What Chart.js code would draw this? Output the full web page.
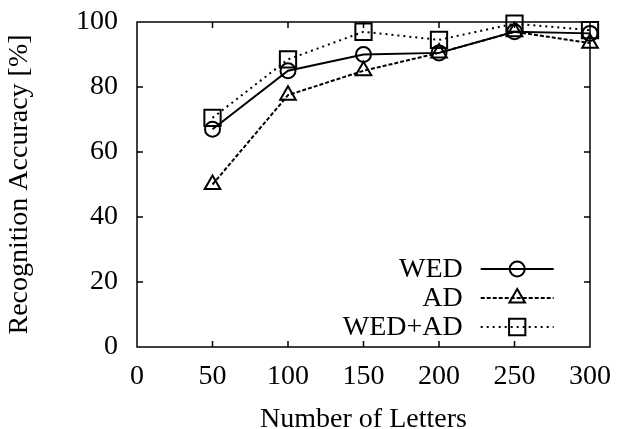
<!DOCTYPE html>
<html>
<head>
<meta charset="utf-8">
<script src="https://cdn.jsdelivr.net/npm/chart.js@4.4.0/dist/chart.umd.min.js"></script>
<style>
  html, body { margin: 0; padding: 0; background: #fff; }
  #wrap { width: 617px; height: 429px; }
</style>
</head>
<body>
<div id="wrap"><canvas id="acc-chart" width="617" height="429"></canvas></div>
<script>
// values
const letters = [50, 100, 150, 200, 250, 300];
const wed = [67, 85, 90, 90.5, 97, 96.5];
const ad = [50, 77.5, 85, 90.5, 97, 93.5];
const wedAd = [70.5, 88.5, 97, 94.5, 99.5, 97.5];

const seriesNames = ["WED", "AD", "WED+AD"];
const xTicks = [0, 50, 100, 150, 200, 250, 300];
const yTicks = [0, 20, 40, 60, 80, 100];

const FONT = "'Liberation Serif', 'Times New Roman', serif";
const FSIZE = 28;

function toPoints(vals) {
  return letters.map((x, i) => ({ x: x, y: vals[i] }));
}

// frame + inward ticks on all four sides, plus the gnuplot style legend
const framePlugin = {
  id: "frame",
  afterDatasetsDraw(chart) {
    const { ctx, chartArea: a, scales } = chart;
    ctx.save();
    ctx.strokeStyle = "#000";
    ctx.lineWidth = 1.5;
    ctx.setLineDash([]);
    ctx.strokeRect(a.left, a.top, a.right - a.left, a.bottom - a.top);
    const len = 6;
    ctx.beginPath();
    xTicks.slice(1, -1).forEach((v) => {
      const px = scales.x.getPixelForValue(v);
      ctx.moveTo(px, a.bottom); ctx.lineTo(px, a.bottom - len);
      ctx.moveTo(px, a.top); ctx.lineTo(px, a.top + len);
    });
    yTicks.slice(1, -1).forEach((v) => {
      const py = scales.y.getPixelForValue(v);
      ctx.moveTo(a.left, py); ctx.lineTo(a.left + len, py);
      ctx.moveTo(a.right, py); ctx.lineTo(a.right - len, py);
    });
    ctx.stroke();

    // legend, lower right inside plot
    const textRight = a.left + (a.right - a.left) * 0.719;
    const lineStart = textRight + 18;
    const lineEnd = lineStart + 73;
    const rowBase = a.bottom - (a.bottom - a.top) * 0.24;
    ctx.font = FSIZE + "px " + FONT;
    ctx.textAlign = "right";
    ctx.textBaseline = "middle";
    chart.data.datasets.forEach((ds, i) => {
      const y = rowBase + i * 29;
      ctx.fillStyle = "#000";
      ctx.fillText(ds.label, textRight, y + 1);
      ctx.lineWidth = ds.borderWidth;
      ctx.setLineDash(ds.borderDash || []);
      ctx.beginPath();
      ctx.moveTo(lineStart, y);
      ctx.lineTo(lineEnd, y);
      ctx.stroke();
      ctx.setLineDash([]);
      ctx.lineWidth = ds.pointBorderWidth;
      ctx.fillStyle = "rgba(0,0,0,0)";
      Chart.helpers.drawPoint(ctx, {
        pointStyle: ds.pointStyle,
        radius: ds.pointRadius,
        rotation: 0,
        borderWidth: ds.pointBorderWidth,
      }, (lineStart + lineEnd) / 2, y);
    });
    ctx.restore();
  },
};

const ctx = document.getElementById("acc-chart").getContext("2d");

new Chart(ctx, {
  type: "line",
  data: {
    datasets: [
      {
        label: seriesNames[0],
        data: toPoints(wed),
        borderColor: "#000",
        borderWidth: 2,
        pointStyle: "circle",
        pointRadius: 7.5,
        pointBorderWidth: 2,
        pointBorderColor: "#000",
        pointBackgroundColor: "rgba(0,0,0,0)",
        clip: false,
      },
      {
        label: seriesNames[1],
        data: toPoints(ad),
        borderColor: "#000",
        borderWidth: 2,
        borderDash: [4, 2],
        pointStyle: "triangle",
        pointRadius: 9,
        pointBorderWidth: 2,
        pointBorderColor: "#000",
        pointBackgroundColor: "rgba(0,0,0,0)",
        clip: false,
      },
      {
        label: seriesNames[2],
        data: toPoints(wedAd),
        borderColor: "#000",
        borderWidth: 2,
        borderDash: [2, 4],
        pointStyle: "rect",
        pointRadius: 11.5,
        pointBorderWidth: 2,
        pointBorderColor: "#000",
        pointBackgroundColor: "rgba(0,0,0,0)",
        clip: false,
      },
    ],
  },
  options: {
    responsive: false,
    animation: false,
    layout: { padding: { top: 22, right: 27, left: 0, bottom: 0 } },
    plugins: { legend: { display: false }, tooltip: { enabled: false } },
    scales: {
      x: {
        type: "linear",
        min: 0,
        max: 300,
        afterBuildTicks: (s) => { s.ticks = xTicks.map((v) => ({ value: v })); },
        afterFit: (s) => { s.height = 82; s.paddingLeft = 0; s.paddingRight = 0; },
        grid: { display: false, drawTicks: false },
        border: { display: false },
        ticks: { color: "#000", padding: 13, font: { family: FONT, size: FSIZE } },
        title: {
          display: true,
          text: "Number of Letters",
          color: "#000",
          padding: { top: 0, bottom: -7 },
          font: { family: FONT, size: FSIZE },
        },
      },
      y: {
        min: 0,
        max: 100,
        afterBuildTicks: (s) => { s.ticks = yTicks.map((v) => ({ value: v })); },
        afterFit: (s) => { s.width = 137; s.paddingTop = 0; s.paddingBottom = 0; },
        grid: { display: false, drawTicks: false },
        border: { display: false },
        ticks: { color: "#000", padding: 19, font: { family: FONT, size: FSIZE } },
        title: {
          display: true,
          text: "Recognition Accuracy [%]",
          color: "#000",
          padding: { top: 3, bottom: 0 },
          font: { family: FONT, size: FSIZE },
        },
      },
    },
  },
  plugins: [framePlugin],
});
</script>
</body>
</html>
